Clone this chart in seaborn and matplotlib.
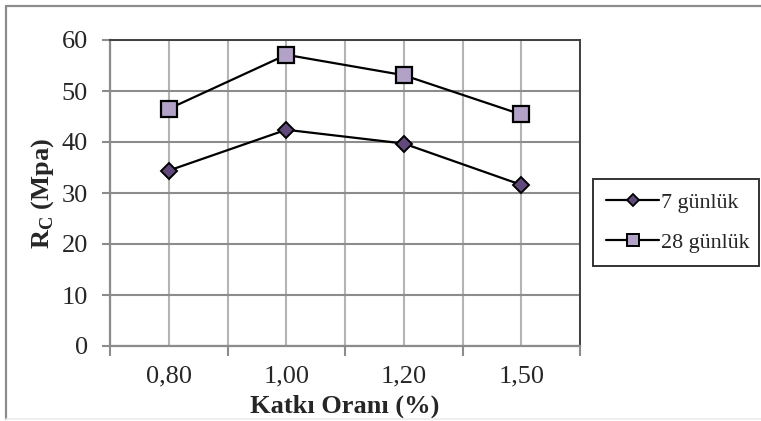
import matplotlib
matplotlib.use("Agg")
import matplotlib.pyplot as plt
from matplotlib.lines import Line2D
from matplotlib.ticker import FixedLocator, NullFormatter
import seaborn as sns
import pandas as pd

# Admixture ratio categories and compressive strengths (MPa)
katki_orani = ["0,80", "1,00", "1,20", "1,50"]
rc_7_gun = [34.4, 42.4, 39.7, 31.6]
rc_28_gun = [46.5, 57.1, 53.1, 45.4]
seri_adlari = ["7 günlük", "28 günlük"]
y_ticks = [0, 10, 20, 30, 40, 50, 60]

sns.set_style("white")
plt.rcParams["font.family"] = ["Liberation Serif", "DejaVu Serif"]
plt.rcParams["mathtext.fontset"] = "custom"
plt.rcParams["mathtext.bf"] = "Liberation Serif:bold"
plt.rcParams["mathtext.rm"] = "Liberation Serif"

W, H = 761, 421
fig = plt.figure(figsize=(W / 100, H / 100), dpi=100)
fig.patch.set_facecolor("white")

# outer chart frame
fig.add_artist(Line2D([6 / W, 6 / W], [2 / H, 415 / H], color="#8c8c8c", lw=1.6,
                      transform=fig.transFigure))
fig.add_artist(Line2D([6 / W, 1.0], [415 / H, 415 / H], color="#8c8c8c", lw=1.6,
                      transform=fig.transFigure))
fig.add_artist(Line2D([6 / W, 1.0], [2 / H, 2 / H], color="#ececec", lw=1.2,
                      transform=fig.transFigure))

ax = fig.add_axes([110 / W, (H - 346) / H, 470 / W, 306 / H])

df7 = pd.DataFrame({"oran": katki_orani, "rc": rc_7_gun})
df28 = pd.DataFrame({"oran": katki_orani, "rc": rc_28_gun})

sns.lineplot(data=df7, x="oran", y="rc", ax=ax, color="black", lw=1.6,
             marker="D", markersize=8, markerfacecolor="#604a7b",
             markeredgecolor="black", markeredgewidth=1.4, zorder=5)
sns.lineplot(data=df28, x="oran", y="rc", ax=ax, color="black", lw=1.6,
             marker="s", markersize=11, markerfacecolor="#b3a2c7",
             markeredgecolor="black", markeredgewidth=1.6, zorder=5)

ax.set_xlim(-0.5, len(katki_orani) - 0.5)
ax.set_ylim(0, 60)
ax.set_yticks(y_ticks)
ax.set_xticks(range(len(katki_orani)))
ax.set_xticklabels(katki_orani)
ax.xaxis.set_minor_locator(FixedLocator([i - 0.5 for i in range(len(katki_orani) + 1)]))
ax.xaxis.set_minor_formatter(NullFormatter())

ax.grid(True, which="both", axis="x", color="#b4b4b4", lw=1.5)
ax.grid(True, which="major", axis="y", color="#8c8c8c", lw=1.5)
ax.set_axisbelow(True)

for side in ["top", "right"]:
    ax.spines[side].set_color("#404040")
    ax.spines[side].set_linewidth(1.4)
for side in ["left", "bottom"]:
    ax.spines[side].set_color("#8c8c8c")
    ax.spines[side].set_linewidth(1.6)

ax.tick_params(axis="y", which="major", length=6, width=1.5, color="#8c8c8c",
               labelsize=19, pad=10, left=True)
ax.tick_params(axis="x", which="major", length=0, labelsize=19, pad=14)
ax.tick_params(axis="x", which="minor", length=7, width=1.5, color="#8c8c8c", bottom=True)

ax.set_xlabel("Katkı Oranı (%)", fontsize=19, fontweight="bold", labelpad=5)
ax.set_ylabel(r"$\mathbf{R}_\mathbf{C}$ (Mpa)", fontsize=19, fontweight="bold", labelpad=4)

handles = [
    Line2D([], [], color="black", lw=1.6, marker="D", markersize=6,
           markerfacecolor="#604a7b", markeredgecolor="black", markeredgewidth=1.3),
    Line2D([], [], color="black", lw=1.6, marker="s", markersize=8,
           markerfacecolor="#b3a2c7", markeredgecolor="black", markeredgewidth=1.4),
]
leg = fig.legend(handles, seri_adlari, loc="upper left",
                 bbox_to_anchor=(593 / W, (H - 267) / H, 166 / W, 88 / H),
                 mode="expand", fontsize=15.8,
                 frameon=True, fancybox=False, edgecolor="black",
                 handlelength=2.4, handletextpad=0.1, borderpad=0.6,
                 labelspacing=0.9, borderaxespad=0)
leg.get_frame().set_linewidth(1.4)

fig.savefig("out.png", dpi=100, facecolor="white")
